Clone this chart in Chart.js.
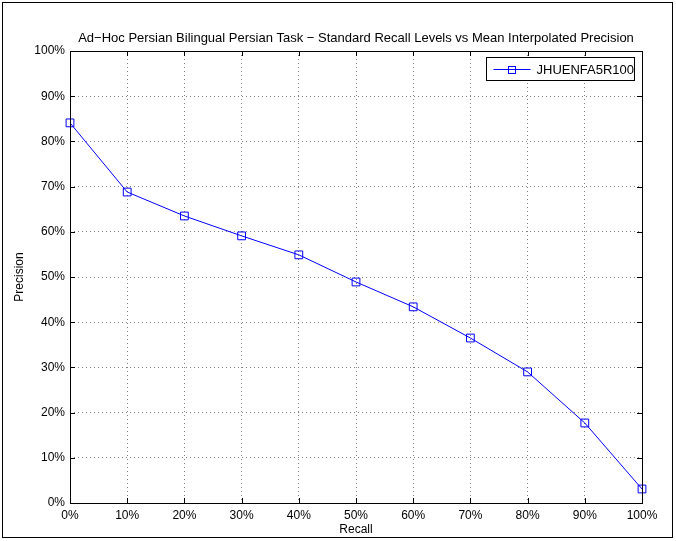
<!DOCTYPE html>
<html>
<head>
<meta charset="utf-8">
<script src="https://cdn.jsdelivr.net/npm/chart.js@4/dist/chart.umd.min.js"></script>
<style>
html,body{margin:0;padding:0;background:#fff;}
#wrap{width:676px;height:541px;position:relative;}
</style>
</head>
<body>
<div id="wrap"><canvas id="c" width="676" height="541"></canvas></div>
<script>
const titleText = 'Ad\u2212Hoc Persian Bilingual Persian Task \u2212 Standard Recall Levels vs Mean Interpolated Precision';
const seriesLabel = 'JHUENFA5R100';
const recallLevels = [0, 10, 20, 30, 40, 50, 60, 70, 80, 90, 100];
const precisionValues = [84.1, 68.8, 63.5, 59.1, 54.9, 48.9, 43.4, 36.5, 29.0, 17.7, 3.1];
const xTickValues = [0, 10, 20, 30, 40, 50, 60, 70, 80, 90, 100];
const yTickValues = [0, 10, 20, 30, 40, 50, 60, 70, 80, 90, 100];
const xAxisTitle = 'Recall';
const yAxisTitle = 'Precision';

const FONT = 'Liberation Sans, Arial, Helvetica, sans-serif';
const BLUE = '#0000ff';

const framePlugin = {
  id: 'framePlugin',
  afterDraw(chart) {
    const ctx = chart.ctx;
    const a = chart.chartArea;
    const xs = chart.scales.x, ys = chart.scales.y;
    ctx.save();
    ctx.strokeStyle = '#000';
    ctx.lineWidth = 1;
    ctx.strokeRect(2.5, 2.5, 670, 535);
    ctx.strokeRect(Math.round(a.left) + 0.5, Math.round(a.top) + 0.5, Math.round(a.right - a.left), Math.round(a.bottom - a.top));
    const tl = 5;
    ctx.beginPath();
    xTickValues.forEach(v => {
      const px = Math.round(xs.getPixelForValue(v)) + 0.5;
      ctx.moveTo(px, a.bottom); ctx.lineTo(px, a.bottom - tl);
      ctx.moveTo(px, a.top); ctx.lineTo(px, a.top + tl);
    });
    yTickValues.forEach(v => {
      const py = Math.round(ys.getPixelForValue(v)) + 0.5;
      ctx.moveTo(a.left, py); ctx.lineTo(a.left + tl, py);
      ctx.moveTo(a.right, py); ctx.lineTo(a.right - tl, py);
    });
    ctx.stroke();
    ctx.fillStyle = '#000';
    ctx.font = '13px ' + FONT;
    ctx.textAlign = 'center';
    ctx.textBaseline = 'middle';
    ctx.fillText(titleText, (a.left + a.right) / 2, 38);
    const lx = 486.5, ly = 57.5, lw = 148, lh = 23;
    ctx.fillStyle = '#fff';
    ctx.fillRect(lx, ly, lw, lh);
    ctx.strokeStyle = '#000';
    ctx.strokeRect(lx, ly, lw, lh);
    const cy = ly + lh / 2;
    ctx.strokeStyle = BLUE;
    ctx.beginPath();
    ctx.moveTo(lx + 7, Math.round(cy) + 0.5);
    ctx.lineTo(lx + 44, Math.round(cy) + 0.5);
    ctx.stroke();
    ctx.strokeRect(lx + 22, Math.round(cy) - 3 + 0.5, 7, 7);
    ctx.fillStyle = '#000';
    ctx.font = '13px ' + FONT;
    ctx.textAlign = 'left';
    ctx.fillText(seriesLabel, lx + 50, cy + 1);
    ctx.restore();
  }
};

new Chart(document.getElementById('c'), {
  type: 'line',
  data: {
    datasets: [{
      label: seriesLabel,
      data: recallLevels.map((r, i) => ({x: r, y: precisionValues[i]})),
      borderColor: BLUE,
      backgroundColor: 'rgba(0,0,0,0)',
      borderWidth: 1,
      pointStyle: 'rect',
      pointRadius: 5.5,
      pointBorderColor: BLUE,
      pointBackgroundColor: 'rgba(0,0,0,0)',
      pointBorderWidth: 1,
      tension: 0,
      clip: false
    }]
  },
  options: {
    responsive: false,
    animation: false,
    devicePixelRatio: 1,
    layout: {padding: {top: 51, right: 34, left: 0, bottom: 0}},
    plugins: {legend: {display: false}, title: {display: false}, tooltip: {enabled: false}},
    scales: {
      x: {
        type: 'linear', min: 0, max: 100,
        afterBuildTicks: s => { s.ticks = xTickValues.map(v => ({value: v})); },
        afterFit: s => { s.height = 38; },
        grid: {color: '#808080', lineWidth: 1, drawTicks: false},
        border: {display: false, dash: [1, 3]},
        ticks: {padding: 5, color: '#000', font: {family: FONT, size: 12}, callback: v => v + '%', maxRotation: 0},
        title: {display: true, text: xAxisTitle, color: '#000', font: {family: FONT, size: 12}, padding: {top: 0, bottom: 4}}
      },
      y: {
        type: 'linear', min: 0, max: 100,
        afterBuildTicks: s => { s.ticks = yTickValues.map(v => ({value: v})); },
        afterFit: s => { s.width = 70; },
        grid: {color: '#808080', lineWidth: 1, drawTicks: false},
        border: {display: false, dash: [1, 3]},
        ticks: {padding: 5, color: '#000', font: {family: FONT, size: 12}, callback: v => v + '%'},
        title: {display: true, text: yAxisTitle, color: '#000', font: {family: FONT, size: 12}, padding: {top: 12, bottom: 0}}
      }
    }
  },
  plugins: [framePlugin]
});
</script>
</body>
</html>
